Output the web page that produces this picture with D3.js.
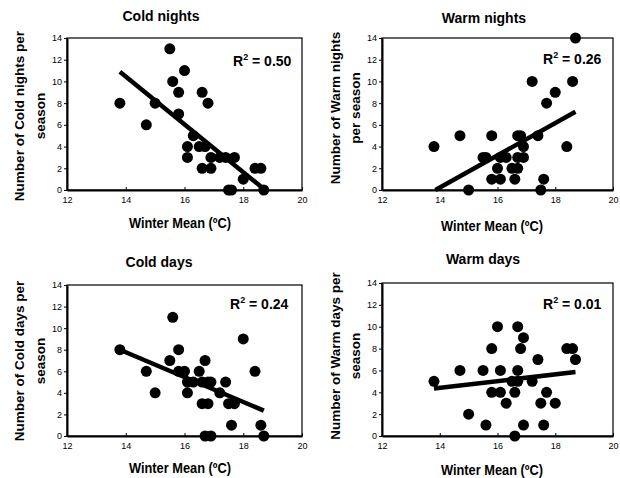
<!DOCTYPE html>
<html>
<head>
<meta charset="utf-8">
<script src="https://cdn.jsdelivr.net/npm/d3@7"></script>
<style>
  body { margin: 0; background: #fff; }
  svg { display: block; font-family: "Liberation Sans", Arial, sans-serif; }
</style>
</head>
<body>
<svg id="chart" width="620" height="478"></svg>
<script>
// axis ticks shared by all four panels
const xTicks = [12, 14, 16, 18, 20];
const yTicks = [0, 2, 4, 6, 8, 10, 12, 14];

const titles = ["Cold nights", "Warm nights", "Cold days", "Warm days"];
const yLabels = [
    ["Number of Cold nights per", "season"],
    ["Number of Warm nights", "per season"],
    ["Number of Cold days per", "season"],
    ["Number of Warm days per", "season"]
];
const xLabel = "Winter Mean (ºC)";
const r2Values = ["0.50", "0.26", "0.24", "0.01"];

// Cold nights: winter mean (ºC) vs count
const coldNightsMean = [13.8, 14.7, 15.0, 15.5, 15.6, 15.8, 15.8, 16.0, 16.1, 16.1, 16.3, 16.5, 16.6, 16.6,
    16.7, 16.8, 16.9, 16.9, 17.2, 17.4, 17.5, 17.6, 17.7, 18.0, 18.4, 18.6, 18.7];
const coldNights = [8, 6, 8, 13, 10, 9, 7, 11, 4, 3, 5, 4, 9, 2,
    4, 8, 3, 2, 3, 3, 0, 0, 3, 1, 2, 2, 0];
const coldNightsFit = [[13.8, 10.9], [18.7, 0.1]];

// Warm nights
const warmNightsMean = [13.8, 14.7, 15.0, 15.5, 15.6, 15.8, 15.8, 16.0, 16.1, 16.1, 16.3, 16.5, 16.6, 16.7,
    16.7, 16.7, 16.8, 16.9, 16.9, 17.2, 17.4, 17.5, 17.6, 17.7, 18.0, 18.4, 18.6, 18.7];
const warmNights = [4, 5, 0, 3, 3, 5, 1, 2, 1, 3, 3, 2, 1, 2,
    3, 5, 5, 4, 3, 10, 5, 0, 1, 8, 9, 4, 10, 14];
const warmNightsFit = [[13.85, 0], [18.7, 7.2]];

// Cold days
const coldDaysMean = [13.8, 14.7, 15.0, 15.5, 15.6, 15.8, 15.8, 16.0, 16.1, 16.1, 16.3, 16.5, 16.6, 16.6,
    16.7, 16.7, 16.8, 16.8, 16.9, 16.9, 17.2, 17.4, 17.5, 17.6, 17.7, 18.0, 18.4, 18.6, 18.7];
const coldDays = [8, 6, 4, 7, 11, 8, 6, 6, 5, 4, 5, 6, 5, 3,
    7, 0, 3, 5, 0, 5, 4, 5, 3, 1, 3, 9, 6, 1, 0];
const coldDaysFit = [[13.8, 8.0], [18.7, 2.35]];

// Warm days
const warmDaysMean = [13.8, 14.7, 15.0, 15.5, 15.6, 15.8, 15.8, 16.0, 16.1, 16.1, 16.3, 16.5, 16.6, 16.6,
    16.7, 16.7, 16.7, 16.8, 16.9, 16.9, 17.2, 17.4, 17.5, 17.6, 17.7, 18.0, 18.4, 18.6, 18.7];
const warmDays = [5, 6, 2, 6, 1, 8, 4, 10, 6, 4, 3, 5, 4, 0,
    10, 6, 5, 8, 9, 1, 5, 7, 3, 1, 4, 3, 8, 8, 7];
const warmDaysFit = [[13.8, 4.35], [18.7, 5.85]];

const panels = [
    { xs: coldNightsMean, ys: coldNights, fit: coldNightsFit,
      left: 67, right: 302, top: 38, bottom: 190,
      titleX: 161, titleY: 21, xLabX: 180, xLabY: 228,
      yLab: [24, 45], yLabY: 116, r2X: 233, r2Y: 66 },
    { xs: warmNightsMean, ys: warmNights, fit: warmNightsFit,
      left: 382, right: 613, top: 38, bottom: 190,
      titleX: 484, titleY: 23, xLabX: 492, xLabY: 231,
      yLab: [340, 360], yLabY: 108, r2X: 543, r2Y: 64 },
    { xs: coldDaysMean, ys: coldDays, fit: coldDaysFit,
      left: 67, right: 302, top: 285, bottom: 436,
      titleX: 159, titleY: 267, xLabX: 180, xLabY: 473,
      yLab: [24, 45], yLabY: 361, r2X: 230, r2Y: 309 },
    { xs: warmDaysMean, ys: warmDays, fit: warmDaysFit,
      left: 382, right: 613, top: 283, bottom: 436,
      titleX: 483, titleY: 264, xLabX: 492, xLabY: 475,
      yLab: [340, 360], yLabY: 356, r2X: 543, r2Y: 309 }
];

const svg = d3.select("#chart");

panels.forEach((p, i) => {
    const x = d3.scaleLinear().domain([12, 20]).range([p.left, p.right]);
    const y = d3.scaleLinear().domain([0, 14]).range([p.bottom, p.top]);
    const g = svg.append("g");

    // thin frame (top / right)
    g.append("rect")
        .attr("x", p.left).attr("y", p.top)
        .attr("width", p.right - p.left).attr("height", p.bottom - p.top)
        .attr("fill", "none").attr("stroke", "#000").attr("stroke-width", 1.2);

    const xAxis = g.append("g")
        .attr("transform", `translate(0,${p.bottom})`)
        .call(d3.axisBottom(x).tickValues(xTicks).tickSize(-3).tickSizeOuter(0).tickPadding(7));
    const yAxis = g.append("g")
        .attr("transform", `translate(${p.left},0)`)
        .call(d3.axisLeft(y).tickValues(yTicks).tickSize(3).tickSizeOuter(0).tickPadding(2));

    [xAxis, yAxis].forEach(a => {
        a.select(".domain").attr("stroke-width", 2);
        a.selectAll("text").attr("font-size", 9).attr("font-family", "inherit").attr("fill", "#000");
    });

    // fitted line
    g.append("path")
        .datum(p.fit)
        .attr("d", d3.line().x(d => x(d[0])).y(d => y(d[1])))
        .attr("fill", "none").attr("stroke", "#000").attr("stroke-width", 4.5);

    g.selectAll("circle")
        .data(p.xs.map((v, k) => [v, p.ys[k]]))
        .enter().append("circle")
        .attr("cx", d => x(d[0]))
        .attr("cy", d => y(d[1]))
        .attr("r", 5.5)
        .attr("fill", "#000");

    g.append("text")
        .attr("x", p.titleX).attr("y", p.titleY)
        .attr("text-anchor", "middle")
        .attr("font-size", 14).attr("font-weight", "bold")
        .text(titles[i]);

    g.append("text")
        .attr("x", p.xLabX).attr("y", p.xLabY)
        .attr("text-anchor", "middle")
        .attr("font-size", 15).attr("font-weight", "bold")
        .attr("textLength", 102).attr("lengthAdjust", "spacingAndGlyphs")
        .text(xLabel);

    yLabels[i].forEach((line, k) => {
        g.append("text")
            .attr("transform", `translate(${p.yLab[k]},${p.yLabY}) rotate(-90)`)
            .attr("text-anchor", "middle")
            .attr("font-size", 13.5).attr("font-weight", "bold")
            .text(line);
    });

    const r2 = g.append("text")
        .attr("x", p.r2X).attr("y", p.r2Y)
        .attr("font-size", 14).attr("font-weight", "bold");
    r2.append("tspan").text("R");
    r2.append("tspan").attr("font-size", 9).attr("dy", -6).text("2");
    r2.append("tspan").attr("dy", 6).text(" = " + r2Values[i]);
});
</script>
</body>
</html>
